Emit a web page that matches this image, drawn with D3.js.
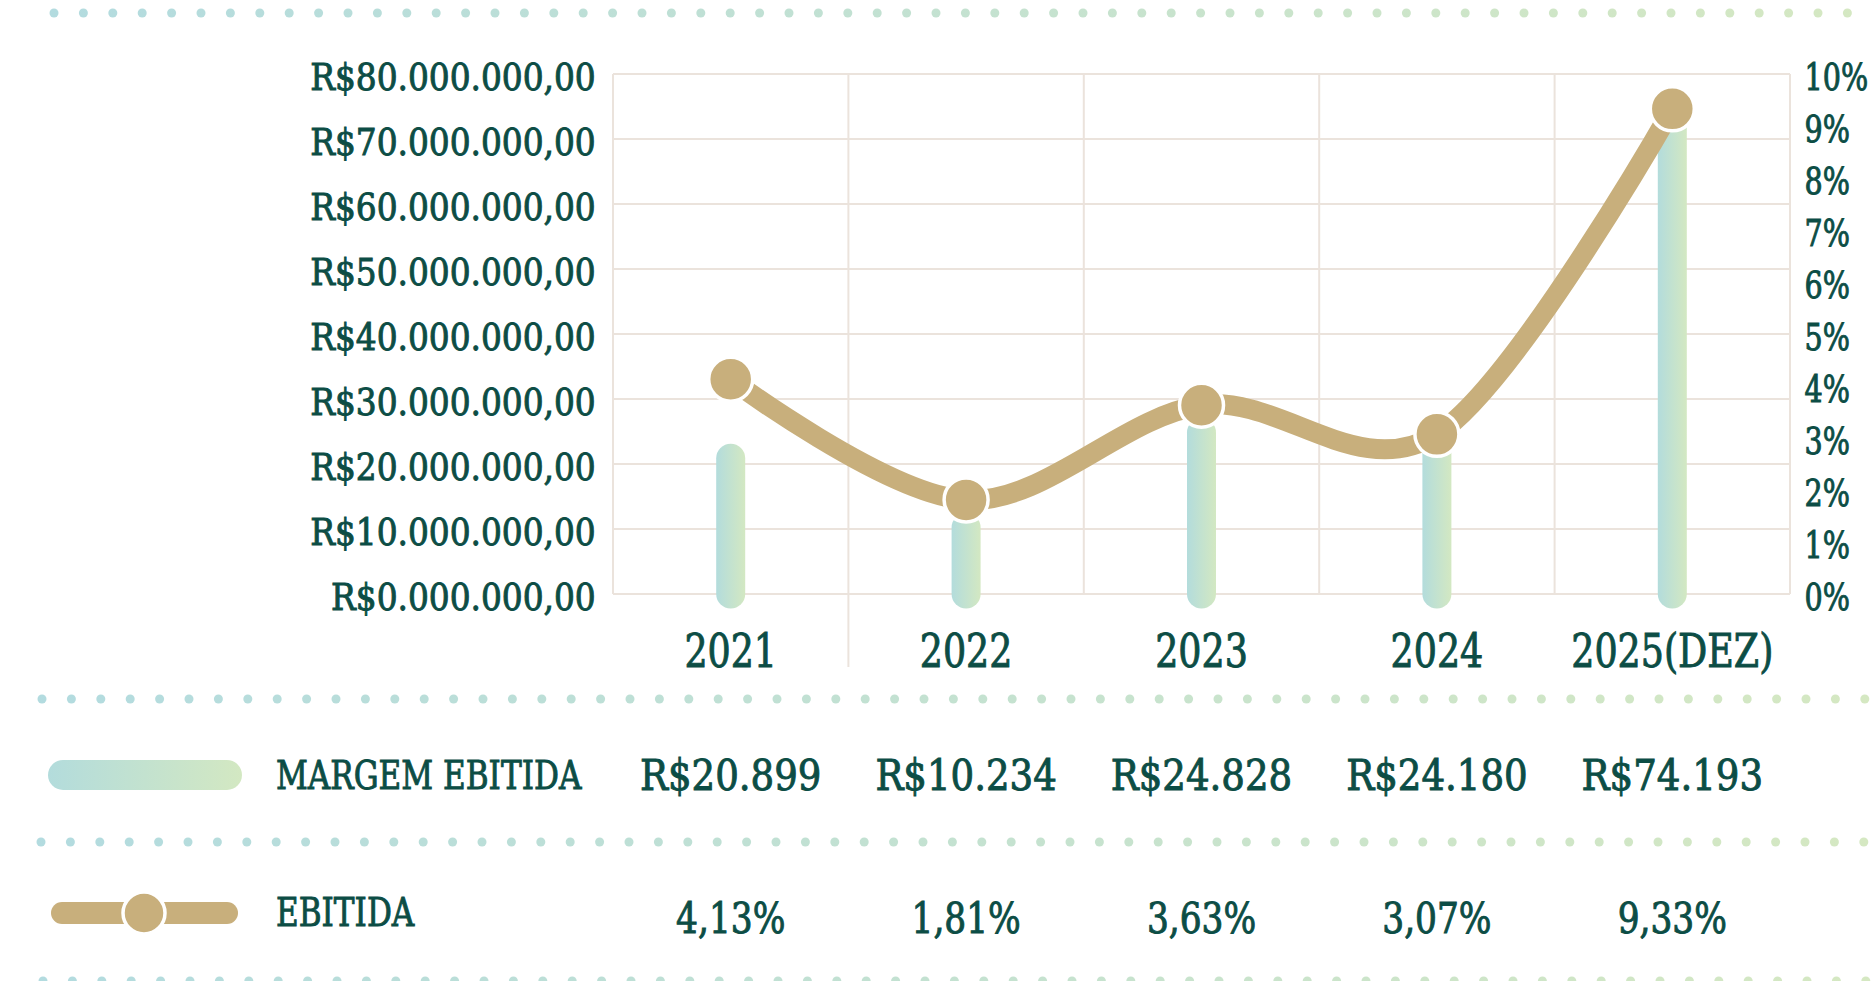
<!DOCTYPE html>
<html>
<head>
<meta charset="utf-8">
<script src="https://cdn.jsdelivr.net/npm/d3@7"></script>
<style>
body{margin:0;background:#fff;overflow:hidden;}
text{font-family:"DejaVu Serif Condensed","DejaVu Serif",serif;fill:#0c4d45;stroke:#0c4d45;stroke-width:0.9px;}
</style>
</head>
<body>
<svg id="graph"></svg>
<script>
// dados
var anos = ["2021", "2022", "2023", "2024", "2025(DEZ)"];
var margem = [20899000, 10234000, 24828000, 24180000, 74193000];
var margemLabels = ["R$20.899", "R$10.234", "R$24.828", "R$24.180", "R$74.193"];
var ebitda = [4.13, 1.81, 3.63, 3.07, 9.33];
var ebitdaLabels = ["4,13%", "1,81%", "3,63%", "3,07%", "9,33%"];
var ticksReais = [0, 10000000, 20000000, 30000000, 40000000, 50000000, 60000000, 70000000, 80000000];
var ticksPct = [0, 1, 2, 3, 4, 5, 6, 7, 8, 9, 10];
var legendas = ["MARGEM EBITIDA", "EBITIDA"];

var screen = {width: 1871, height: 981};
var plot = {left: 613, right: 1790, top: 74, bottom: 594};
var gridColor = "#ebe3dc";
var tan = "#c8af7c";

var svg = d3.select("#graph")
    .attr("width", screen.width)
    .attr("height", screen.height);

var defs = svg.append("defs");

var barGrad = defs.append("linearGradient")
    .attr("id", "barGrad")
    .attr("x1", 0).attr("x2", 1).attr("y1", 0).attr("y2", 0);
barGrad.append("stop").attr("offset", "0%").attr("stop-color", "#b3dcdc");
barGrad.append("stop").attr("offset", "100%").attr("stop-color", "#d3e8c2");

var dotGrad = defs.append("linearGradient")
    .attr("id", "dotGrad")
    .attr("gradientUnits", "userSpaceOnUse")
    .attr("x1", 0).attr("x2", screen.width).attr("y1", 0).attr("y2", 0);
dotGrad.append("stop").attr("offset", "0%").attr("stop-color", "#b2dbe0");
dotGrad.append("stop").attr("offset", "100%").attr("stop-color", "#d5e8c2");

// scales
var xScale = d3.scaleBand()
    .domain(anos)
    .range([plot.left, plot.right]);
var center = function(d) { return xScale(d) + xScale.bandwidth() / 2; };

var yScale = d3.scaleLinear()
    .domain([0, 80000000])
    .range([plot.bottom, plot.top]);

var yPct = d3.scaleLinear()
    .domain([0, 10])
    .range([plot.bottom, plot.top]);

// linhas pontilhadas
var drawDots = function(y, start)
{
    svg.append("g")
        .selectAll("circle")
        .data(d3.range(start, screen.width + 10, 29.4))
        .enter()
        .append("circle")
        .attr("cx", function(d) { return d; })
        .attr("cy", y)
        .attr("r", 4.5)
        .attr("fill", "url(#dotGrad)");
};
drawDots(13, 54);
drawDots(699, 42);
drawDots(842, 41);
drawDots(981, 43);

// grade
var grid = svg.append("g");
grid.selectAll(".hgrid")
    .data(ticksReais)
    .enter()
    .append("line")
    .attr("x1", plot.left)
    .attr("x2", plot.right)
    .attr("y1", function(d) { return yScale(d); })
    .attr("y2", function(d) { return yScale(d); })
    .attr("stroke", gridColor)
    .attr("stroke-width", 2);

var edges = d3.range(0, anos.length + 1).map(function(i) { return plot.left + i * xScale.step(); });
grid.selectAll(".vgrid")
    .data(edges)
    .enter()
    .append("line")
    .attr("x1", function(d) { return d; })
    .attr("x2", function(d) { return d; })
    .attr("y1", plot.top)
    .attr("y2", function(d, i) { return i == 1 ? 667 : plot.bottom; })
    .attr("stroke", gridColor)
    .attr("stroke-width", 2);

// eixo esquerdo
var formatReais = function(v)
{
    return "R$" + (v / 1000000) + ".000.000,00";
};
var leftAxis = svg.append("g")
    .attr("transform", "translate(" + plot.left + ",0)")
    .call(d3.axisLeft(yScale).tickValues(ticksReais).tickFormat(formatReais).tickSize(0).tickPadding(18));
leftAxis.select(".domain").remove();
leftAxis.selectAll("text")
    .attr("dy", 15)
    .attr("transform", "scale(0.96,1)")
    .style("font-size", "38px")
    .style("font-family", "DejaVu Serif Condensed")
    .attr("fill", "#0c4d45");

// eixo direito
var rightAxis = svg.append("g")
    .attr("transform", "translate(" + plot.right + ",0)")
    .call(d3.axisRight(yPct).tickValues(ticksPct).tickFormat(function(d) { return d + "%"; }).tickSize(0).tickPadding(17));
rightAxis.select(".domain").remove();
rightAxis.selectAll("text")
    .attr("dy", 15)
    .attr("transform", "scale(0.86,1)")
    .style("font-size", "37px")
    .style("font-family", "DejaVu Serif Condensed")
    .attr("fill", "#0c4d45");

// rotulos x
svg.append("g")
    .selectAll("text")
    .data(anos)
    .enter()
    .append("text")
    .attr("transform", function(d) { return "translate(" + center(d) + ",667) scale(0.88,1)"; })
    .attr("text-anchor", "middle")
    .style("font-size", "46px")
    .text(function(d) { return d; });

// barras
var cap = 14.5;
svg.append("g")
    .selectAll("rect")
    .data(margem)
    .enter()
    .append("rect")
    .attr("x", function(d, i) { return center(anos[i]) - cap; })
    .attr("y", function(d) { return yScale(d) - cap; })
    .attr("width", cap * 2)
    .attr("height", function(d) { return yScale(0) - yScale(d) + cap * 2; })
    .attr("rx", cap)
    .attr("fill", "url(#barGrad)");

// linha ebitda
var line = d3.line()
    .x(function(d, i) { return center(anos[i]); })
    .y(function(d) { return yPct(d); })
    .curve(d3.curveCardinal.tension(0));

svg.append("path")
    .datum(ebitda)
    .attr("d", line)
    .attr("fill", "none")
    .attr("stroke", tan)
    .attr("stroke-width", 20);

svg.append("g")
    .selectAll("circle")
    .data(ebitda)
    .enter()
    .append("circle")
    .attr("cx", function(d, i) { return center(anos[i]); })
    .attr("cy", function(d) { return yPct(d); })
    .attr("r", 22)
    .attr("fill", tan)
    .attr("stroke", "#fff")
    .attr("stroke-width", 3.5);

// legenda / tabela
svg.append("rect")
    .attr("x", 48).attr("y", 760)
    .attr("width", 194).attr("height", 30)
    .attr("rx", 15)
    .attr("fill", "url(#barGrad)");

svg.append("rect")
    .attr("x", 51).attr("y", 902)
    .attr("width", 187).attr("height", 22)
    .attr("rx", 11)
    .attr("fill", tan);
svg.append("circle")
    .attr("cx", 144).attr("cy", 913)
    .attr("r", 21)
    .attr("fill", tan)
    .attr("stroke", "#fff")
    .attr("stroke-width", 3.5);

svg.append("text")
    .attr("transform", "translate(276,789) scale(0.865,1)")
    .style("font-size", "40px")
    .text(legendas[0]);
svg.append("text")
    .attr("transform", "translate(276,926) scale(0.865,1)")
    .style("font-size", "40px")
    .text(legendas[1]);

svg.append("g")
    .selectAll("text")
    .data(margemLabels)
    .enter()
    .append("text")
    .attr("transform", function(d, i) { return "translate(" + center(anos[i]) + ",790) scale(0.96,1)"; })
    .attr("text-anchor", "middle")
    .style("font-size", "43px")
    .text(function(d) { return d; });

svg.append("g")
    .selectAll("text")
    .data(ebitdaLabels)
    .enter()
    .append("text")
    .attr("transform", function(d, i) { return "translate(" + center(anos[i]) + ",933) scale(0.91,1)"; })
    .attr("text-anchor", "middle")
    .style("font-size", "42px")
    .text(function(d) { return d; });
</script>
</body>
</html>
